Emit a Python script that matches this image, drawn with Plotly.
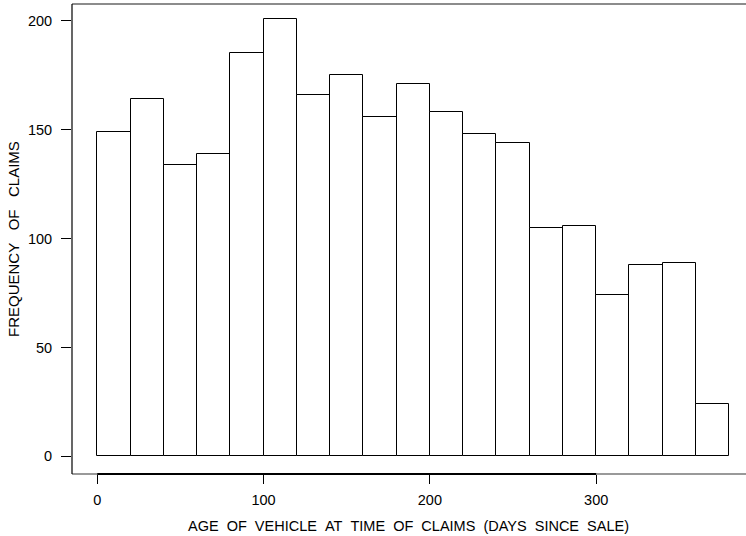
import plotly.graph_objects as go

# Histogram of warranty claims by vehicle age (20-day bins)
bin_left = [0, 20, 40, 60, 80, 100, 120, 140, 160, 180,
            200, 220, 240, 260, 280, 300, 320, 340, 360]
bin_width = 20
claim_counts = [149, 164, 134, 139, 185, 201, 166, 175, 156, 171,
                158, 148, 144, 105, 106, 74, 88, 89, 24]

x_ticks = [0, 100, 200, 300]
y_ticks = [0, 50, 100, 150, 200]

FONT = "Liberation Sans, Arial, Helvetica, sans-serif"
FS = 14.5
NB = "\u00a0\u00a0"

centers = [b + bin_width / 2 for b in bin_left]

fig = go.Figure()
fig.add_trace(go.Bar(
    x=centers,
    y=claim_counts,
    width=bin_width,
    marker=dict(color="white", line=dict(color="black", width=1)),
    hoverinfo="x+y",
))

fig.update_layout(
    width=746,
    height=536,
    margin=dict(l=72, r=0, t=4, b=62),
    paper_bgcolor="white",
    plot_bgcolor="white",
    showlegend=False,
    font=dict(family=FONT, size=FS, color="black"),
    bargap=0,
)

fig.update_xaxes(
    range=[-15.2, 390.1],
    tickvals=x_ticks,
    ticktext=[str(v) for v in x_ticks],
    ticks="outside",
    ticklen=9,
    tickwidth=1,
    tickcolor="black",
    showgrid=False,
    zeroline=False,
    showline=False,
    ticklabelstandoff=4,
    tickfont=dict(family=FONT, size=FS, color="black"),
)
fig.update_yaxes(
    range=[-8.1, 207.7],
    tickvals=y_ticks,
    ticktext=[str(v) for v in y_ticks],
    ticks="outside",
    ticklen=10,
    tickwidth=1,
    tickcolor="black",
    showgrid=False,
    zeroline=False,
    showline=False,
    ticklabelstandoff=6,
    tickfont=dict(family=FONT, size=FS, color="black"),
)

# Frame: grey box with black axis lines along the left and the labelled x span
fig.add_shape(type="line", xref="paper", yref="paper", x0=0, x1=1, y0=1, y1=1,
              line=dict(color="#666666", width=1.5))
fig.add_shape(type="line", xref="paper", yref="paper", x0=0, x1=1, y0=0, y1=0,
              line=dict(color="#777777", width=1.5))
fig.add_shape(type="line", xref="paper", yref="paper", x0=0, x1=0, y0=0, y1=1,
              line=dict(color="black", width=1.2))
fig.add_shape(type="line", xref="x", yref="paper", x0=x_ticks[0], x1=x_ticks[-1],
              y0=0, y1=0, line=dict(color="black", width=1.8))

fig.add_annotation(
    text=NB.join("AGE OF VEHICLE AT TIME OF CLAIMS (DAYS SINCE SALE)".split(" ")),
    xref="paper", yref="paper", x=(408 - 72) / 674, y=-(525.7 - 474) / 470,
    xanchor="center", yanchor="middle", showarrow=False,
    font=dict(family=FONT, size=FS, color="black"),
)
fig.add_annotation(
    text=(NB + "\u00a0").join("FREQUENCY OF CLAIMS".split(" ")),
    xref="paper", yref="paper", x=-(72 - 13) / 674, y=(474 - 239) / 470,
    xanchor="center", yanchor="middle", textangle=-90, showarrow=False,
    font=dict(family=FONT, size=15, color="black"),
)

fig.write_html("out.html")
